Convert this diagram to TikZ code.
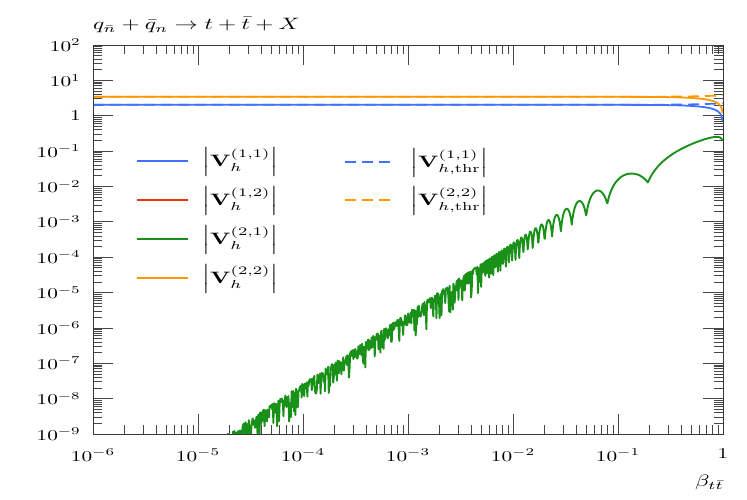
\documentclass[tikz,border=0pt]{standalone}
\usepackage{amsmath}
\definecolor{vblue}{RGB}{64,112,255}
\definecolor{vred}{RGB}{240,50,20}
\definecolor{vgreen}{RGB}{25,145,25}
\definecolor{vorange}{RGB}{255,152,0}
\definecolor{framegray}{RGB}{55,55,55}
\definecolor{tickgray}{RGB}{70,70,70}
\newcommand{\tlbl}[1]{\scalebox{2.13}[1.5]{#1}}
\newcommand{\blbl}[1]{\scalebox{2.34}[1.65]{#1}}
\begin{document}
\begin{tikzpicture}[x=1pt,y=1pt,
  every node/.style={inner sep=0pt},
  frameline/.style={draw=framegray, line width=0.9pt},
  tickline/.style={draw=tickgray, line width=0.75pt},
  curve/.style={line width=1.8pt},
  legline/.style={line width=1.4pt},
  dashcurve/.style={line width=1.7pt, dash pattern=on 11pt off 6pt},
  legdash/.style={line width=1.4pt, dash pattern=on 11pt off 6pt},
  greencurve/.style={line width=1.9pt, vgreen, line join=round}]
\useasboundingbox (-93,-65) rectangle (654,434);
% ---- ticks x
\foreach \d in {0,...,6}{
  \draw[tickline] (\d*105,0) -- ++(0,20);
  \draw[tickline] (\d*105,389) -- ++(0,-20);
}
\foreach \d in {0,...,5}{\foreach \k in {2,...,9}{
  \draw[tickline] ({(\d+log10(\k))*105},0) -- ++(0,9);
  \draw[tickline] ({(\d+log10(\k))*105},389) -- ++(0,-9);
}}
% ---- ticks y
\foreach \d in {0,...,11}{
  \draw[tickline] (0,\d*35.3636) -- ++(20,0);
  \draw[tickline] (630,\d*35.3636) -- ++(-20,0);
}
\foreach \d in {0,...,10}{\foreach \k in {2,...,9}{
  \draw[tickline] (0,{(\d+log10(\k))*35.3636}) -- ++(9,0);
  \draw[tickline] (630,{(\d+log10(\k))*35.3636}) -- ++(-9,0);
}}
% ---- y labels
\foreach \d/\t in {0/{10^{-9}},1/{10^{-8}},2/{10^{-7}},3/{10^{-6}},4/{10^{-5}},5/{10^{-4}},6/{10^{-3}},7/{10^{-2}},8/{10^{-1}},9/{1},10/{10^{1}},11/{10^{2}}}{
  \node[anchor=east] (yl\d) at (-12,\d*35.3636) {\tlbl{$\t$}};
}
% ---- x labels
\foreach \d/\t in {0/{10^{-6}},1/{10^{-5}},2/{10^{-4}},3/{10^{-3}},4/{10^{-2}},5/{10^{-1}},6/{1}}{
  \node[anchor=north] (xl\d) at (\d*105,-15) {\tlbl{$\t$}};
}
% ---- title and axis label
\node[anchor=west] (title) at (0,409) {\blbl{$q_{\bar n}+\bar q_n \to t+\bar t+X$}};
\node (xlabel) at (616.5,-48.5) {\blbl{$\beta_{t\bar t}$}};
% ---- curves
\begin{scope}[x=105pt, y=35.3636pt, shift={(630pt,318.2727pt)}]
  \clip (-6,-9) rectangle (0,2);
  % dashed thresholds
  \draw[dashcurve, vorange] (-6,0.537) -- plot[domain=-1:-0.00436, samples=30] (\x,{0.537+ln(1+0.1*exp(4.60517*\x))/2.302585});
  \draw[dashcurve, vblue] (-6,0.311) -- plot[domain=-1:-0.00436, samples=30] (\x,{0.311+ln(1+0.1*exp(4.60517*\x))/2.302585});
  % solid
  \draw[curve, vorange] (-6,0.537) -- plot[domain=-0.01:-3.9165, samples=60] ({0.5*ln(1-exp(\x))/2.302585},{0.537+0.27*\x/2.302585});
  \draw[curve, vblue] (-6,0.311) -- plot[domain=-0.01:-3.9165, samples=60] ({0.5*ln(1-exp(\x))/2.302585},{0.311+0.27*\x/2.302585});
  % green oscillating
  \pgfmathsetseed{7}
  \draw[greencurve]
    plot[domain=-4.75:-2.3, samples=409] (\x,{0.43+2*\x-ln(1+6*exp(2.302585*\x))/2.302585+ln(0.15+0.85*abs(sin(180*rnd)))/2.302585})
    -- plot[domain=-2.3:-0.00436, samples=575] (\x,{0.43+2*\x-ln(1+6*exp(2.302585*\x))/2.302585+0.18*ln(1-exp(4.60517*\x))/2.302585+ln(0.28+0.72*abs(sin((exp(-2.302585*\x)-5.2)*24.1611)))/2.302585});
\end{scope}
% ---- frame
\draw[frameline] (0,0) rectangle (630,389);
% ---- legend
\draw[legline, vblue]   (44,273) -- (95,273);
\draw[legline, vred]    (44,234) -- (95,234);
\draw[legline, vgreen]  (44,195) -- (95,195);
\draw[legline, vorange] (44,156) -- (95,156);
\node[anchor=west] (l11) at (109,272) {\blbl{$\left|\mathbf{V}_h^{(1,1)}\right|$}};
\node[anchor=west] (l12) at (109,233) {\blbl{$\left|\mathbf{V}_h^{(1,2)}\right|$}};
\node[anchor=west] (l21) at (109,194) {\blbl{$\left|\mathbf{V}_h^{(2,1)}\right|$}};
\node[anchor=west] (l22) at (109,155) {\blbl{$\left|\mathbf{V}_h^{(2,2)}\right|$}};
\draw[legdash, vblue]   (252,272) -- (303,272);
\draw[legdash, vorange] (252,234) -- (303,234);
\node[anchor=west] (t11) at (317,271) {\blbl{$\left|\mathbf{V}_{h,\mathrm{thr}}^{(1,1)}\right|$}};
\node[anchor=west] (t22) at (317,233) {\blbl{$\left|\mathbf{V}_{h,\mathrm{thr}}^{(2,2)}\right|$}};
\end{tikzpicture}
\end{document}
